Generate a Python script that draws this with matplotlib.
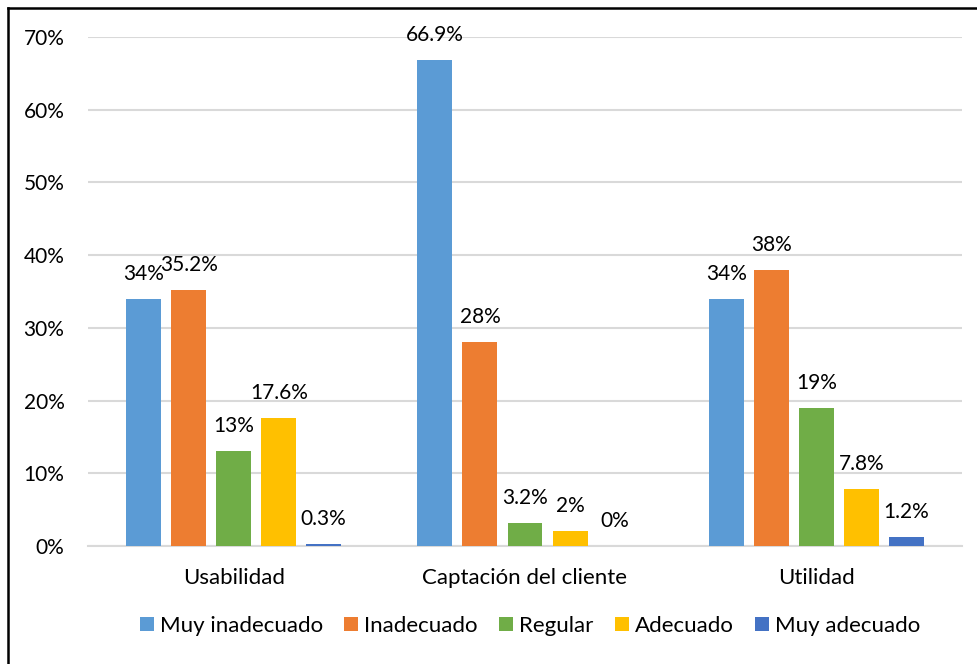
import matplotlib
matplotlib.use('Agg')
import matplotlib.pyplot as plt
import numpy as np
from matplotlib.lines import Line2D

plt.rcParams['font.family'] = ['Lato', 'DejaVu Sans']

# 数据
categorias = ['Usabilidad', 'Captación del cliente', 'Utilidad']
niveles = ['Muy inadecuado', 'Inadecuado', 'Regular', 'Adecuado', 'Muy adecuado']
muy_inadecuado = [34, 66.9, 34]
inadecuado = [35.2, 28, 38]
regular = [13, 3.2, 19]
adecuado = [17.6, 2, 7.8]
muy_adecuado = [0.3, 0, 1.2]
colores = ['#5B9BD5', '#ED7D31', '#70AD47', '#FFC000', '#4472C4']

series = [muy_inadecuado, inadecuado, regular, adecuado, muy_adecuado]

fig = plt.figure(figsize=(9.78, 6.64), dpi=100)
ax = fig.add_axes([88 / 978, 118 / 664, 874 / 978, 509 / 664])

x = np.arange(len(categorias))
paso = 0.1546
ancho = 0.12
for i, (vals, nombre, color) in enumerate(zip(series, niveles, colores)):
    pos = x + (i - 2) * paso
    ax.bar(pos, np.array(vals) / 100, width=ancho, color=color, label=nombre, zorder=3)
    for px, v in zip(pos, vals):
        ax.annotate(f'{v:g}%', (px, v / 100), xytext=(0, 18), textcoords='offset points',
                    ha='center', va='center', fontsize=15, color='black', zorder=4)

ax.set_xlim(-0.5, 2.5)
ax.set_ylim(0, 0.70)
ax.set_yticks(np.arange(0, 0.71, 0.10))
ax.set_yticklabels([f'{int(round(t * 100))}%' for t in np.arange(0, 0.71, 0.10)])
ax.set_xticks(x)
ax.set_xticklabels(categorias)
ax.tick_params(axis='y', length=0, pad=17, labelsize=15)
ax.tick_params(axis='x', length=0, pad=16, labelsize=16)
ax.grid(axis='y', color='#D9D9D9', linewidth=1.5, zorder=0)
for s in ['top', 'right', 'left']:
    ax.spines[s].set_visible(False)
ax.spines['bottom'].set_color('#D9D9D9')
ax.spines['bottom'].set_linewidth(1.5)

fig.legend(loc='center', bbox_to_anchor=(530 / 978, 1 - 626 / 664), ncol=5, frameon=False,
           fontsize=16, handlelength=0.63, handleheight=0.63, handletextpad=0.27,
           columnspacing=0.95, borderpad=0, borderaxespad=0)

# 边框（上、左）
fig.add_artist(Line2D([8 / 978, 1], [1 - 8 / 664, 1 - 8 / 664], transform=fig.transFigure,
                      color='black', linewidth=1.8))
fig.add_artist(Line2D([8 / 978, 8 / 978], [0, 1 - 8 / 664], transform=fig.transFigure,
                      color='black', linewidth=1.8))

plt.savefig('out.png', dpi=100)
plt.close()
